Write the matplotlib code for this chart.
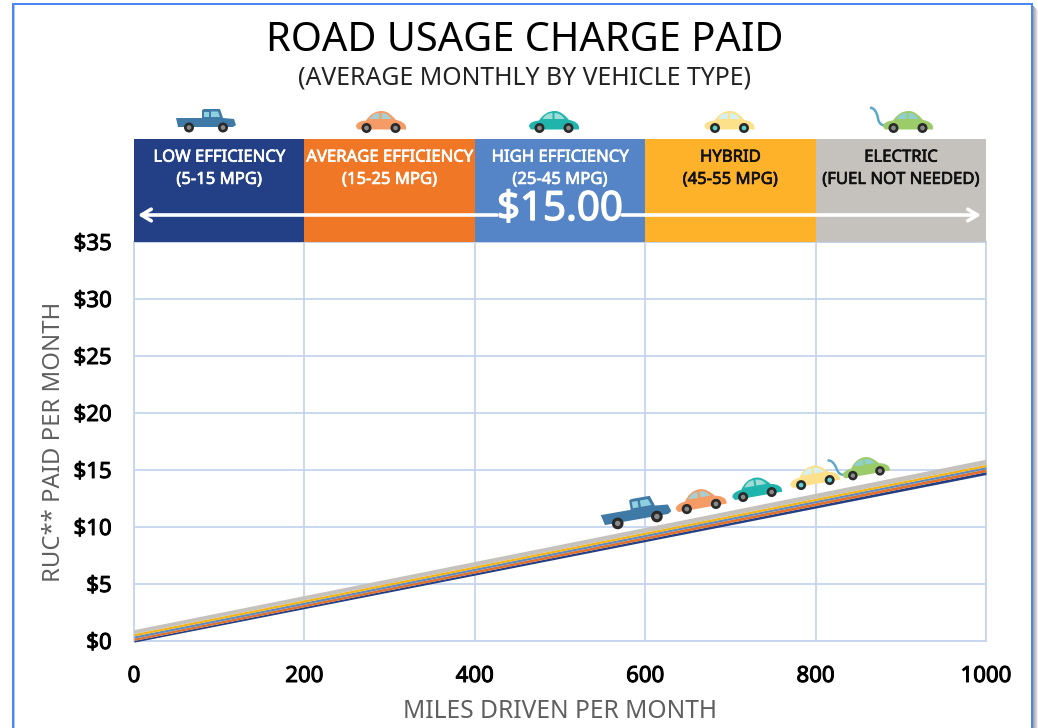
import numpy as np
import matplotlib
matplotlib.use('Agg')
import matplotlib.pyplot as plt
import matplotlib.patheffects as pe
from matplotlib.patches import Circle, PathPatch, Rectangle
from matplotlib.path import Path
from matplotlib.transforms import Affine2D

plt.rcParams['font.family'] = ['Noto Sans', 'DejaVu Sans']

# 数据
miles = [0, 1000]
band_edges = [0, 200, 400, 600, 800, 1000]
band_titles = ['LOW EFFICIENCY\n(5-15 MPG)', 'AVERAGE EFFICIENCY\n(15-25 MPG)', 'HIGH EFFICIENCY\n(25-45 MPG)',
               'HYBRID\n(45-55 MPG)', 'ELECTRIC\n(FUEL NOT NEEDED)']
band_colors = ['#233f85', '#f07726', '#5585c6', '#fdb22a', '#c5c2bd']
band_text_colors = ['white', 'white', 'white', '#111111', '#111111']
x_ticks = [0, 200, 400, 600, 800, 1000]
y_ticks = [0, 5, 10, 15, 20, 25, 30, 35]
y_tick_labels = ['$0', '$5', '$10', '$15', '$20', '$25', '$30', '$35']

# 每条带子的下沿和上沿 (0英里, 1000英里)
low_lower = [-0.1, 14.6]
low_upper = [0.05, 14.85]
avg_upper = [0.25, 15.1]
high_upper = [0.45, 15.3]
hybrid_upper = [0.65, 15.5]
electric_upper = [1.0, 15.95]


def heavy(color, w=0.5):
    # 字体只有常规和粗体，用描边做出半粗的效果
    return [pe.withStroke(linewidth=w, foreground=color)]


fig = plt.figure(figsize=(10.38, 7.28), dpi=100)

# 主图区域 (像素换算)
ax = fig.add_axes([134 / 1038, 1 - 641 / 728, 852 / 1038, 399 / 728])
ax.set_xlim(0, 1000)
ax.set_ylim(0, 35)
grid_color = '#c5d5ee'
ax.set_xticks(x_ticks)
ax.set_yticks(y_ticks)
ax.set_yticklabels(y_tick_labels)
ax.grid(True, color=grid_color, linewidth=1.3)
ax.set_axisbelow(True)
ax.tick_params(length=0, labelsize=16)
ax.tick_params(axis='x', pad=18)
ax.tick_params(axis='y', pad=16)
for lab in ax.get_xticklabels() + ax.get_yticklabels():
    lab.set_path_effects(heavy('black', 0.7))
for s in ax.spines.values():
    s.set_color(grid_color)
    s.set_linewidth(1.3)
ax.set_xlabel('MILES DRIVEN PER MONTH', fontsize=17.7, color='#5f5f5f', va='center')
ax.set_ylabel('RUC** PAID PER MONTH', fontsize=17.2, color='#5f5f5f', va='center')
ax.xaxis.set_label_coords(0.5, -(711 - 641) / 399)
ax.yaxis.set_label_coords(-(134 - 54) / 852, 0.5)

# 五条收费带
lowers = [low_lower, low_upper, avg_upper, high_upper, hybrid_upper]
uppers = [low_upper, avg_upper, high_upper, hybrid_upper, electric_upper]
stripe_colors = ['#233f85', '#e0702a', '#5f8ac2', '#f5b40f', '#c5c2bd']
for lo, up, c in zip(lowers, uppers, stripe_colors):
    ax.fill_between(miles, lo, up, color=c, linewidth=0, zorder=3, clip_on=False)

# 顶部色块
top_height = 35 * 103 / 399
for i in range(5):
    ax.bar(band_edges[i], top_height, width=band_edges[i + 1] - band_edges[i], bottom=35, align='edge',
           color=band_colors[i], clip_on=False, zorder=3)
    ax.text((band_edges[i] + band_edges[i + 1]) / 2, 43.1, band_titles[i], color=band_text_colors[i], ha='center',
            va='top', fontsize=12, linespacing=1.52, clip_on=False, zorder=4,
            path_effects=heavy(band_text_colors[i], 0.5))

# 覆盖层，单位是像素，用来画图标和边框
ov = fig.add_axes([0, 0, 1, 1], zorder=5)
ov.set_xlim(0, 1038)
ov.set_ylim(728, 0)
ov.axis('off')
ov.patch.set_alpha(0)

# 边框和右侧阴影
frame_color = '#4a86f0'
ov.add_patch(Rectangle((14, 3), 1.2, 740, facecolor='#a8ccf5', edgecolor='none'))
ov.add_patch(Rectangle((12.4, 3), 1.8, 740, facecolor=frame_color, edgecolor='none'))
ov.add_patch(Rectangle((12.4, 3), 1020.6, 2, facecolor=frame_color, edgecolor='none'))
ov.add_patch(Rectangle((1031, 3), 2, 740, facecolor=frame_color, edgecolor='none'))
for k, c in enumerate(['#a6a6a6', '#b4b4b4', '#c6c6c6', '#dadada', '#ececec']):
    ov.add_patch(Rectangle((1033 + k, 6 + k), 1, 740, facecolor=c, edgecolor='none'))

ov.text(525, 41, 'ROAD USAGE CHARGE PAID', ha='center', va='center', fontsize=28.7, color='black')
ov.text(525, 78, '(AVERAGE MONTHLY BY VEHICLE TYPE)', ha='center', va='center', fontsize=17.9, color='#222222')

# 箭头
arrow_style = dict(arrowstyle='->,head_length=0.7,head_width=0.42', color='white', lw=2.6, shrinkA=0, shrinkB=0)
ov.annotate('', xy=(138, 215), xytext=(497, 215), arrowprops=arrow_style)
ov.annotate('', xy=(981, 215), xytext=(622, 215), arrowprops=arrow_style)
ov.text(560, 210, '$15.00', ha='center', va='center', fontsize=29, color='white', path_effects=heavy('white', 1.0))

C4 = Path.CURVE4
SEDAN = Path([(-25, -5), (-25, -9), (-20, -10.5), (-15, -11), (-11, -17), (-6, -20.5), (1, -20.5), (7, -20.5), (12, -15),
              (15, -11.5), (20, -11), (25, -8), (25, -4), (25, -2), (-23, -2), (-25, -5)],
             [Path.MOVETO, C4, C4, C4, C4, C4, C4, C4, C4, C4, C4, C4, C4, Path.LINETO, Path.LINETO, Path.CLOSEPOLY])
SEDAN_WIN1 = Path([(-11.5, -12.5), (-8, -18.5), (-1.5, -18.5), (-1.5, -12.5), (-11.5, -12.5)],
                  [Path.MOVETO, Path.CURVE3, Path.CURVE3, Path.LINETO, Path.CLOSEPOLY])
SEDAN_WIN2 = Path([(0.5, -18.5), (7, -18.5), (10.5, -12.5), (0.5, -12.5), (0.5, -18.5)],
                  [Path.MOVETO, Path.CURVE3, Path.CURVE3, Path.LINETO, Path.CLOSEPOLY])
TRUCK = Path([(-30, -13), (-4, -13), (-4, -21), (-2, -22), (14, -22), (17, -13), (28, -12), (30, -6), (27, -4),
              (-28, -4), (-30, -13)],
             [Path.MOVETO] + [Path.LINETO] * 9 + [Path.CLOSEPOLY])
TRUCK_WIN1 = Path([(-2, -19.5), (3, -19.5), (3, -14), (-2, -14), (-2, -19.5)], [Path.MOVETO] + [Path.LINETO] * 3 + [Path.CLOSEPOLY])
TRUCK_WIN2 = Path([(5, -19.5), (12, -19.5), (14, -14), (5, -14), (5, -19.5)], [Path.MOVETO] + [Path.LINETO] * 3 + [Path.CLOSEPOLY])
CABLE = Path([(-24, -6), (-29, -7), (-30, -13), (-31, -20), (-35, -23), (-38, -24)],
             [Path.MOVETO, Path.CURVE3, Path.CURVE3, Path.CURVE3, Path.CURVE3, Path.LINETO])


def draw_vehicle(cx, cy, kind, body, win, hub, scale=1.0, angle=0.0):
    t = Affine2D().scale(scale).rotate_deg(angle).translate(cx, cy) + ov.transData
    if kind == 'truck':
        shapes = [(TRUCK, body), (TRUCK_WIN1, win), (TRUCK_WIN2, win)]
        wheels = [-17, 17]
    else:
        shapes = [(SEDAN, body), (SEDAN_WIN1, win), (SEDAN_WIN2, win)]
        wheels = [-14.5, 14.5]
    if kind == 'electric':
        ov.add_patch(PathPatch(CABLE, facecolor='none', edgecolor='#5aa9c9', linewidth=1.8 * scale, transform=t))
    for p, c in shapes:
        ov.add_patch(PathPatch(p, facecolor=c, edgecolor='none', transform=t))
    for wx in wheels:
        ov.add_patch(Circle((wx, -3.5), 5.0, facecolor='#2a2a2a', edgecolor='none', transform=t))
        ov.add_patch(Circle((wx, -3.5), 2.3, facecolor=hub, edgecolor='none', transform=t))


vehicles = [
    ('truck', '#3f79a6', '#8fd0e0', '#8a8a8a'),
    ('sedan', '#f49b66', '#a8cfd0', '#8a8a8a'),
    ('sedan', '#1fb5ad', '#9fdcd6', '#8a8a8a'),
    ('sedan', '#fde08a', '#d5f0ee', '#5fd3d3'),
    ('electric', '#9ccb6a', '#90cfd0', '#8a8a8a'),
]
top_pos = [(206, 131), (381, 131.5), (554, 131.5), (729.5, 131.5), (908, 131.5)]
road_pos = [(638, 524), (702, 510), (758, 498), (816, 486), (867, 476.5)]
road_scale = [1.17, 1.02, 1.0, 1.0, 0.95]
for (kind, body, win, hub), (x1, y1), (x2, y2), s in zip(vehicles, top_pos, road_pos, road_scale):
    draw_vehicle(x1, y1, kind, body, win, hub)
    draw_vehicle(x2, y2, kind, body, win, hub, scale=s, angle=-10)

fig.savefig('out.png', dpi=100)
